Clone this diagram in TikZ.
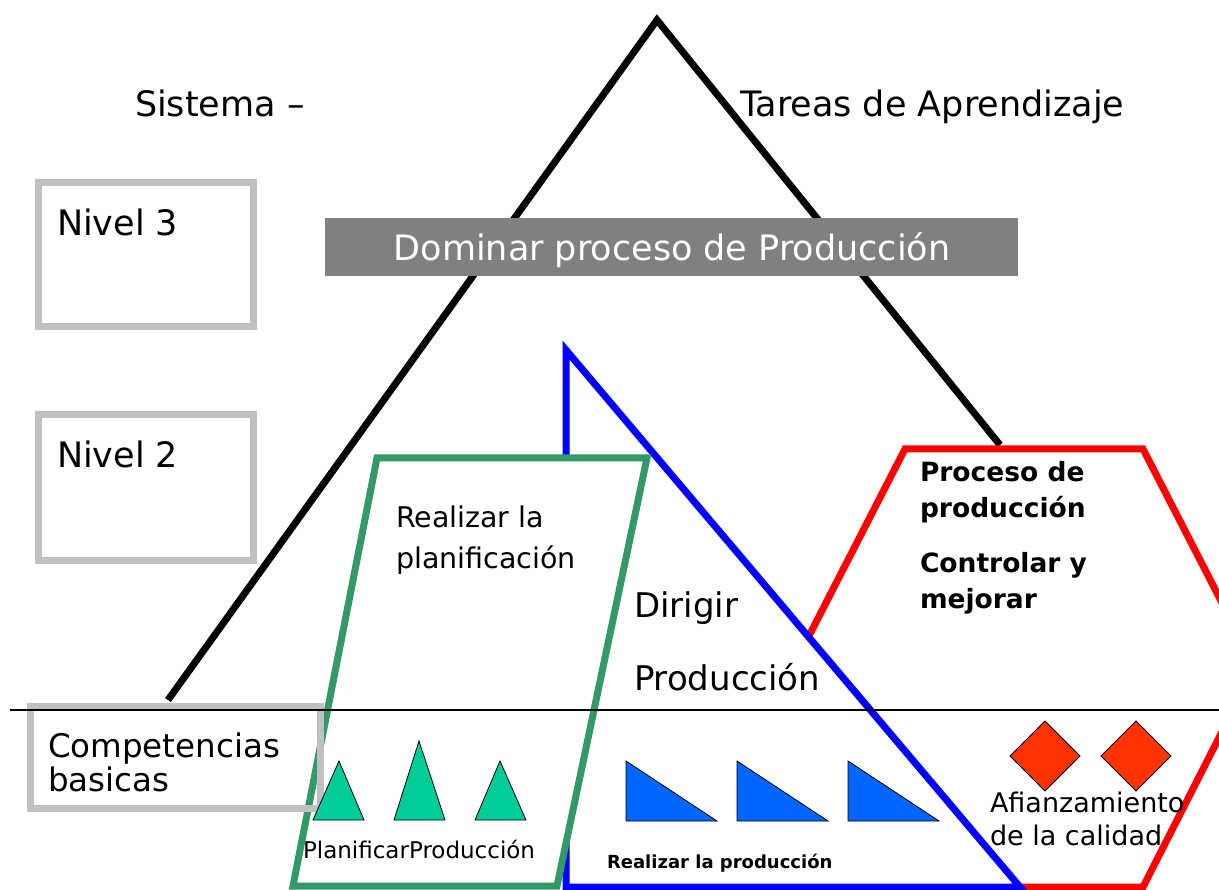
\documentclass[tikz,border=0pt]{standalone}
\usepackage{fontspec}
\setmainfont{DejaVu Sans}
\definecolor{boxgray}{HTML}{C0C0C0}
\definecolor{bargray}{HTML}{808080}
\definecolor{pgreen}{HTML}{339966}
\definecolor{tgreen}{HTML}{00CC99}
\definecolor{tblue}{HTML}{0066FF}
\definecolor{dred}{HTML}{FF3300}
\newcommand{\fsz}[1]{\fontsize{#1}{#1}\selectfont}
\begin{document}
\begin{tikzpicture}[x=1pt,y=-1pt,line join=miter,
  txt/.style={anchor=base west,inner sep=0pt,outer sep=0pt},
  graybox/.style={draw=boxgray,line width=7pt},
  frame/.style={line width=7pt,fill=white},
  shapeout/.style={draw=black,line width=0.8pt}]
\useasboundingbox (0,0) rectangle (1219,890);
\clip (0,0) rectangle (1219,890);
\fill[white] (0,0) rectangle (1219,890);

% black pyramid
\coordinate (apex) at (657,20);
\coordinate (pl) at (168,700);
\coordinate (pr) at (1000,445);
\draw[line width=7pt] (pl) -- (apex) -- (pr);

% header texts
\node[txt,font=\fsz{35}] (sis) at (135,117) {Sistema –};
\node[txt,font=\fsz{35}] (tar) at (740,117) {Tareas de Aprendizaje};

% level boxes
\draw[graybox] (38,183) rectangle (253,327);
\node[txt,font=\fsz{35}] (n3) at (57,236) {Nivel 3};
\draw[graybox] (38,415) rectangle (253,560);
\node[txt,font=\fsz{35}] (n2) at (57,468) {Nivel 2};

% bar
\fill[bargray] (325,218) rectangle (1018,276);
\node[anchor=base,inner sep=0pt,text=white,font=\fsz{35}] (dom) at (672,261) {Dominar proceso de Producción};

% red hexagon
\draw[frame,draw=red] (905,449) -- (1143,449) -- (1255,667) -- (1143,887) -- (905,887) -- (793,667) -- cycle;
% blue triangle
\draw[frame,draw=blue] (566,350) -- (566,887) -- (1020,887) -- cycle;
% green parallelogram
\draw[frame,draw=pgreen] (377,458) -- (647,458) -- (557,886) -- (293,886) -- cycle;

% competencias box (no fill)
\draw[graybox] (30,706) rectangle (320,808);
\node[txt,font=\fsz{32.5}] (comp1) at (48,757) {Competencias};
\node[txt,font=\fsz{32.5}] (comp2) at (48,791) {basicas};

% thin line
\coordinate (lineL) at (10,710);
\coordinate (lineR) at (1219,710);
\draw[line width=1.3pt] (lineL) -- (lineR);

% texts inside shapes
\node[txt,font=\fsz{28.5}] (rp1) at (396,527) {Realizar la};
\node[txt,font=\fsz{28.5}] (rp2) at (396,568) {planificación};
\node[txt,font=\fsz{34}] (dir1) at (634,617) {Dirigir};
\node[txt,font=\fsz{34}] (dir2) at (634,690) {Producción};
\node[txt,font=\bfseries\fsz{26.5}] (pp1) at (920,482) {Proceso de};
\node[txt,font=\bfseries\fsz{26.5}] (pp2) at (920,518) {producción};
\node[txt,font=\bfseries\fsz{26.5}] (cm1) at (920,572) {Controlar y};
\node[txt,font=\bfseries\fsz{26.5}] (cm2) at (920,608) {mejorar};

% green triangles
\filldraw[fill=tgreen,shapeout] (313,820) -- (364,820) -- (339,761) -- cycle;
\filldraw[fill=tgreen,shapeout] (394,820) -- (445,820) -- (419,741) -- cycle;
\filldraw[fill=tgreen,shapeout] (475,820) -- (526,820) -- (500,761) -- cycle;
\node[txt,font=\fsz{23}] (plan) at (303,858) {PlanificarProducción};

% blue right triangles
\filldraw[fill=tblue,shapeout] (626,761) -- (626,821) -- (717,821) -- cycle;
\filldraw[fill=tblue,shapeout] (737,761) -- (737,821) -- (828,821) -- cycle;
\filldraw[fill=tblue,shapeout] (848,761) -- (848,821) -- (939,821) -- cycle;
\node[txt,font=\bfseries\fsz{18}] (rprod) at (607,868) {Realizar la producción};

% red diamonds
\filldraw[fill=dred,shapeout] (1045,721) -- (1080,756) -- (1045,791) -- (1010,756) -- cycle;
\filldraw[fill=dred,shapeout] (1136,721) -- (1171,756) -- (1136,791) -- (1101,756) -- cycle;
\node[txt,font=\fsz{27}] (af1) at (990,812) {Afianzamiento};
\node[txt,font=\fsz{27}] (af2) at (990,845) {de la calidad};
\end{tikzpicture}
\end{document}
